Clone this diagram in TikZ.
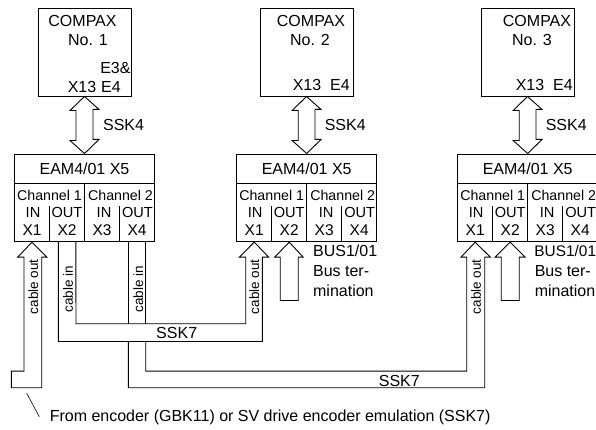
\documentclass[tikz,border=0pt]{standalone}
\usepackage{fontspec}
\setmainfont{Liberation Sans}
\begin{document}
\begin{tikzpicture}[x=1pt,y=-1pt,line width=0.9pt,
    every node/.style={inner sep=0pt,font=\fontsize{16}{18}\selectfont},
    unitbox/.style={draw,minimum width=93pt,minimum height=88pt},
    titlebox/.style={draw,minimum width=140pt,minimum height=29pt},
    chanbox/.style={draw,minimum width=70pt,minimum height=58.7pt},
    portcell/.style={minimum width=35pt,minimum height=23.4pt,font=\fontsize{15.5}{18}\selectfont},
    chantext/.style={font=\fontsize{14.2}{16}\selectfont},
    dirtext/.style={font=\fontsize{14.6}{16}\selectfont},
    cabletext/.style={rotate=90,font=\fontsize{13.5}{16}\selectfont}]
  \clip (0,0) rectangle (596,430);

  % ---- COMPAX No. 1 ----
  \node[unitbox] (compa) at (84.5,52) {};
  \node (companame) at (82.5,21) {COMPAX};
  \node (compano) at (88,40) {No. 1};
  \node[anchor=east] (compaeb) at (131,68) {E3\&};
  \node (compax) at (82,86.5) {X13};
  \node (compae) at (111,86.5) {E4};
  \node[anchor=west] (sska) at (102.7,125) {SSK4};

  % ---- EAM4/01 links ----
  \node[titlebox] (eama) at (84.5,168.5) {EAM4/01 X5};
  \node[chanbox] (acha) at (49.5,212.35) {};
  \node[chanbox] (achb) at (119.5,212.35) {};
  \node[chantext] (achat) at (49.5,195) {Channel 1};
  \node[chantext] (achbt) at (120.5,195) {Channel 2};
  \node[dirtext] (ain) at (33,212) {IN};
  \node[dirtext] (aout) at (67,212) {OUT};
  \node[dirtext] (ainb) at (104,212) {IN};
  \node[dirtext] (aoutb) at (137.5,212) {OUT};
  \node[portcell] (axa) at (32,230) {X1};
  \node[portcell] (axb) at (67,230) {X2};
  \node[portcell] (axc) at (102,230) {X3};
  \node[portcell] (axd) at (137,230) {X4};
  \draw (axb.south west) -- ++(0,-36);
  \draw (axd.south west) -- ++(0,-36);
  \draw (compa.south) -- ++(14.5,13) -- ++(-6,0) -- ++(0,30) -- ++(6,0) -- (eama.north)
    -- ++(-14.5,-13) -- ++(6,0) -- ++(0,-30) -- ++(-6,0) -- cycle;

  % ---- COMPAX No. 2 ----
  \node[unitbox] (compb) at (306.5,52) {};
  \node (compbname) at (311,21) {COMPAX};
  \node (compbno) at (310,40) {No. 2};
  \node (compbx) at (307,85) {X13};
  \node (compbe) at (340,85) {E4};
  \node[anchor=west] (sskb) at (324.3,125) {SSK4};

  % ---- EAM4/01 mitte ----
  \node[titlebox] (eamb) at (306.7,168.5) {EAM4/01 X5};
  \node[chanbox] (bcha) at (271.7,212.35) {};
  \node[chanbox] (bchb) at (341.7,212.35) {};
  \node[chantext] (bchat) at (271.7,195) {Channel 1};
  \node[chantext] (bchbt) at (342.7,195) {Channel 2};
  \node[dirtext] (bin) at (255.2,212) {IN};
  \node[dirtext] (bout) at (289.2,212) {OUT};
  \node[dirtext] (binb) at (326.2,212) {IN};
  \node[dirtext] (boutb) at (359.7,212) {OUT};
  \node[portcell] (bxa) at (254.2,230) {X1};
  \node[portcell] (bxb) at (289.2,230) {X2};
  \node[portcell] (bxc) at (324.2,230) {X3};
  \node[portcell] (bxd) at (359.2,230) {X4};
  \draw (bxb.south west) -- ++(0,-36);
  \draw (bxd.south west) -- ++(0,-36);
  \draw (compb.south) -- ++(14.5,13) -- ++(-6,0) -- ++(0,30) -- ++(6,0) -- (eamb.north)
    -- ++(-14.5,-13) -- ++(6,0) -- ++(0,-30) -- ++(-6,0) -- cycle;
  \node[anchor=west] (busb) at (312.7,251) {BUS1/01};
  \node[anchor=west] (busbb) at (312.7,271.3) {Bus ter-};
  \node[anchor=west] (busbc) at (312.7,290.7) {mination};
  \draw (bxb.south) -- ++(14,15) -- ++(-5,0) -- ++(0,43.3) -- ++(-18,0) -- ++(0,-43.3)
    -- ++(-5.5,0) -- cycle;

  % ---- COMPAX No. 3 ----
  \node[unitbox] (compc) at (527.5,52) {};
  \node (compcname) at (537,21) {COMPAX};
  \node (compcno) at (532,40) {No. 3};
  \node (compcx) at (530,85) {X13};
  \node (compce) at (563,85) {E4};
  \node[anchor=west] (sskc) at (545.3,125) {SSK4};

  % ---- EAM4/01 rechts ----
  \node[titlebox] (eamc) at (527.7,168.5) {EAM4/01 X5};
  \node[chanbox] (ccha) at (492.7,212.35) {};
  \node[chanbox] (cchb) at (562.7,212.35) {};
  \node[chantext] (cchat) at (492.7,195) {Channel 1};
  \node[chantext] (cchbt) at (563.7,195) {Channel 2};
  \node[dirtext] (cin) at (476.2,212) {IN};
  \node[dirtext] (cout) at (510.2,212) {OUT};
  \node[dirtext] (cinb) at (547.2,212) {IN};
  \node[dirtext] (coutb) at (580.7,212) {OUT};
  \node[portcell] (cxa) at (475.2,230) {X1};
  \node[portcell] (cxb) at (510.2,230) {X2};
  \node[portcell] (cxc) at (545.2,230) {X3};
  \node[portcell] (cxd) at (580.2,230) {X4};
  \draw (cxb.south west) -- ++(0,-36);
  \draw (cxd.south west) -- ++(0,-36);
  \draw (compc.south) -- ++(14.5,13) -- ++(-6,0) -- ++(0,30) -- ++(6,0) -- (eamc.north)
    -- ++(-14.5,-13) -- ++(6,0) -- ++(0,-30) -- ++(-6,0) -- cycle;
  \node[anchor=west,font=\fontsize{15.4}{18}\selectfont] (busc) at (534,251) {BUS1/01};
  \node[anchor=west] (buscb) at (534.3,271.3) {Bus ter-};
  \node[anchor=west] (buscc) at (534.3,290.7) {mination};
  \draw (cxb.south) -- ++(15,15) -- ++(-6,0) -- ++(0,43.3) -- ++(-18,0) -- ++(0,-43.3)
    -- ++(-6,0) -- cycle;

  % ---- Kabel ----
  \draw (axa.south) -- ++(15,15) -- ++(-5.3,0) -- ++(0,130.6) -- ++(-30.4,0) -- ++(0,-16.6)
    -- ++(12.7,0) -- ++(0,-114) -- ++(-6.3,0) -- cycle;
  \node[cabletext] (cablea) at (33.3,286.7) {cable out};

  \draw ([xshift=-8.7pt]axb.south) -- ++(0,99.3) -- ++(204,0) -- ++(0,-84.3) -- ++(6.4,0)
    -- (bxa.south) -- ++(-14.9,15) -- ++(6.4,0) -- ++(0,66.6) -- ++(-169.7,0)
    -- ([xshift=8.8pt]axb.south);
  \node[cabletext] (cableb) at (68,289) {cable in};
  \node[cabletext] (cablec) at (254.3,286.7) {cable out};
  \node (sskd) at (176.7,332.7) {SSK7};

  \draw ([xshift=-8.7pt]axd.south) -- ++(0,81.6);
  \draw ([xshift=8.7pt]axd.south) -- ++(0,81.6);
  \draw ([xshift=-8.7pt,yshift=-99.3pt]axd.south) -- ++(0,46.3) -- ++(356.4,0) -- ++(0,-130.6)
    -- ++(5.6,0) -- (cxa.south) -- ++(-14.2,15) -- ++(5.7,0) -- ++(0,114) -- ++(-321,0)
    -- ++(0,-29.7);
  \node[cabletext] (cabled) at (138.3,289) {cable in};
  \node[cabletext] (cablee) at (476,286.7) {cable out};
  \node (sske) at (399.3,380.7) {SSK7};

  % Geber
  \node[anchor=west] (encnote) at (49.3,417.3) {From encoder (GBK11) or SV drive encoder emulation (SSK7)};
  \coordinate (enctop) at (26.7,393.3);
  \draw[line width=0.6pt] (enctop) -- (39.3,416.7);
\end{tikzpicture}
\end{document}
